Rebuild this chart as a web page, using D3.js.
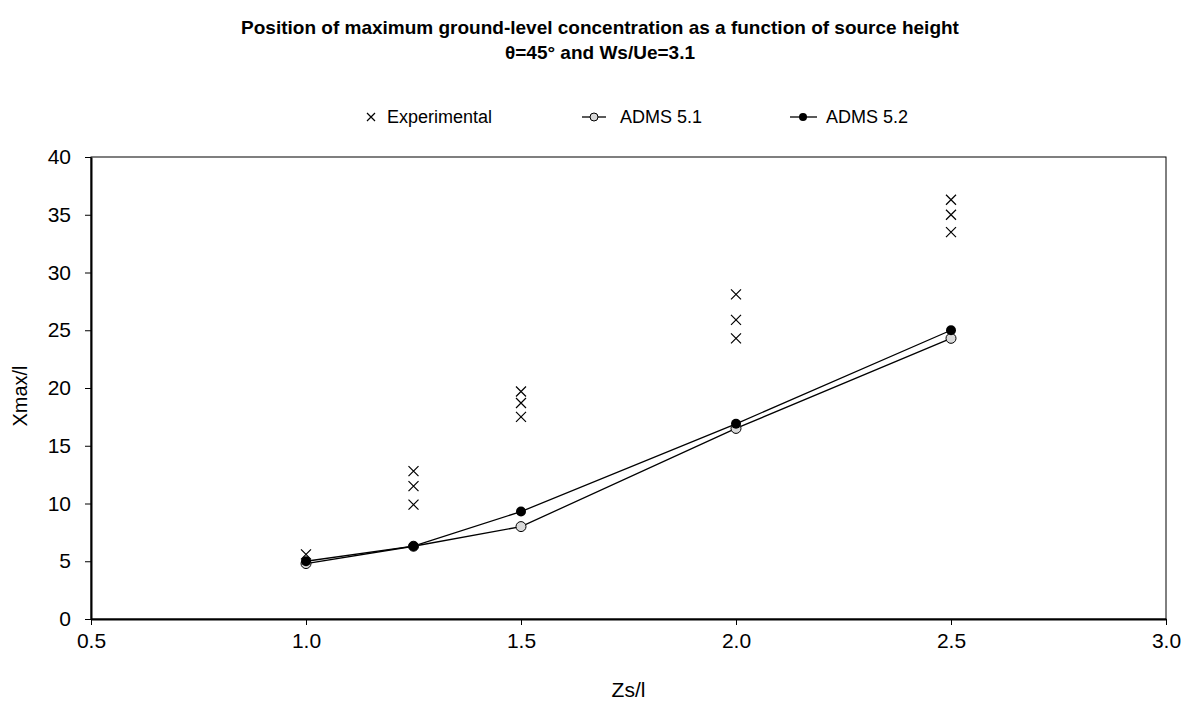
<!DOCTYPE html>
<html>
<head>
<meta charset="utf-8">
<script src="https://cdn.jsdelivr.net/npm/d3@7"></script>
<style>
  body { margin: 0; background: #fff; }
  text { font-family: "Liberation Sans", Arial, sans-serif; }
</style>
</head>
<body>
<div id="chart"></div>
<script>
// data
var zsValues = [1.0, 1.25, 1.5, 2.0, 2.5];
var expZs = [1.0, 1.25, 1.25, 1.25, 1.5, 1.5, 1.5, 2.0, 2.0, 2.0, 2.5, 2.5, 2.5];
var expXmax = [5.6, 12.8, 11.5, 9.9, 19.7, 18.7, 17.5, 28.1, 25.9, 24.3, 36.3, 35.0, 33.5];
var adms51 = [4.8, 6.3, 8.0, 16.5, 24.3];
var adms52 = [5.0, 6.3, 9.3, 16.9, 25.0];
var xTicks = [0.5, 1.0, 1.5, 2.0, 2.5, 3.0];
var yTicks = [0, 5, 10, 15, 20, 25, 30, 35, 40];

var svgWidth = 1193;
var svgHeight = 701;

var margin = { top: 157, right: 27, bottom: 82, left: 91 };
var chartWidth = svgWidth - margin.left - margin.right;
var chartHeight = svgHeight - margin.top - margin.bottom;

var svg = d3.select("#chart")
  .append("svg")
  .attr("width", svgWidth)
  .attr("height", svgHeight);

var chartGroup = svg.append("g")
  .attr("transform", `translate(${margin.left}, ${margin.top})`);

var xScale = d3.scaleLinear().domain([0.5, 3.0]).range([0, chartWidth]);
var yScale = d3.scaleLinear().domain([0, 40]).range([chartHeight, 0]);

// frame
chartGroup.append("rect")
  .attr("width", chartWidth)
  .attr("height", chartHeight)
  .attr("fill", "none")
  .attr("stroke", "#000")
  .attr("stroke-width", 1);

var bottomAxis = d3.axisBottom(xScale).tickValues(xTicks).tickFormat(d3.format(".1f")).tickSize(6).tickSizeOuter(0);
var leftAxis = d3.axisLeft(yScale).tickValues(yTicks).tickSize(6).tickSizeOuter(0);

var xg = chartGroup.append("g")
  .attr("transform", "translate(0," + chartHeight + ")")
  .call(bottomAxis);
xg.select(".domain").attr("stroke-width", 2);
xg.selectAll("text").attr("font-size", 21).attr("y", 14).attr("dy", "0.71em").attr("fill", "#000")
  .style("font-family", "Liberation Sans, Arial, sans-serif");

var yg = chartGroup.append("g").call(leftAxis);
yg.select(".domain").attr("stroke-width", 2);
yg.selectAll("text").attr("font-size", 21).attr("x", -20).attr("fill", "#000")
  .style("font-family", "Liberation Sans, Arial, sans-serif");

// axis titles
chartGroup.append("text")
  .attr("transform", "rotate(-90)")
  .attr("x", -(396 - margin.top))
  .attr("y", -64)
  .attr("text-anchor", "middle")
  .attr("font-size", 20)
  .text("Xmax/l");

chartGroup.append("text")
  .attr("x", chartWidth / 2)
  .attr("y", chartHeight + 78)
  .attr("text-anchor", "middle")
  .attr("font-size", 21)
  .text("Zs/l");

// title
svg.append("text")
  .attr("x", 600)
  .attr("y", 34)
  .attr("text-anchor", "middle")
  .attr("font-size", 19)
  .attr("font-weight", "bold")
  .text("Position of maximum ground-level concentration as a function of source height");
svg.append("text")
  .attr("x", 600)
  .attr("y", 59)
  .attr("text-anchor", "middle")
  .attr("font-size", 19)
  .attr("font-weight", "bold")
  .text("θ=45° and Ws/Ue=3.1");

// lines
var line = d3.line()
  .x((d, i) => xScale(zsValues[i]))
  .y(d => yScale(d));

chartGroup.append("path")
  .datum(adms51)
  .attr("d", line)
  .attr("fill", "none")
  .attr("stroke", "#000")
  .attr("stroke-width", 1.3);

chartGroup.append("path")
  .datum(adms52)
  .attr("d", line)
  .attr("fill", "none")
  .attr("stroke", "#000")
  .attr("stroke-width", 1.3);

chartGroup.selectAll(".p51")
  .data(adms51)
  .enter()
  .append("circle")
  .attr("cx", (d, i) => xScale(zsValues[i]))
  .attr("cy", d => yScale(d))
  .attr("r", 5)
  .attr("fill", "#d9d9d9")
  .attr("stroke", "#000")
  .attr("stroke-width", 1);

chartGroup.selectAll(".p52")
  .data(adms52)
  .enter()
  .append("circle")
  .attr("cx", (d, i) => xScale(zsValues[i]))
  .attr("cy", d => yScale(d))
  .attr("r", 5)
  .attr("fill", "#000");

function cross(g, cx, cy, s) {
  g.append("path")
    .attr("d", `M${cx - s},${cy - s}L${cx + s},${cy + s}M${cx - s},${cy + s}L${cx + s},${cy - s}`)
    .attr("stroke", "#000")
    .attr("stroke-width", 1.2)
    .attr("fill", "none");
}

expXmax.forEach(function(v, i) {
  cross(chartGroup, xScale(expZs[i]), yScale(v), 5);
});

// legend
var legend = svg.append("g").attr("transform", "translate(0,117)");
cross(legend, 371, 0, 4);
legend.append("text").attr("x", 387).attr("y", 6).attr("font-size", 18).text("Experimental");

legend.append("line").attr("x1", 582).attr("x2", 606).attr("y1", 0).attr("y2", 0).attr("stroke", "#000").attr("stroke-width", 1.3);
legend.append("circle").attr("cx", 594).attr("cy", 0).attr("r", 4).attr("fill", "#d9d9d9").attr("stroke", "#000");
legend.append("text").attr("x", 620).attr("y", 6).attr("font-size", 18).text("ADMS 5.1");

legend.append("line").attr("x1", 790).attr("x2", 817).attr("y1", 0).attr("y2", 0).attr("stroke", "#000").attr("stroke-width", 1.3);
legend.append("circle").attr("cx", 803).attr("cy", 0).attr("r", 4).attr("fill", "#000");
legend.append("text").attr("x", 826).attr("y", 6).attr("font-size", 18).text("ADMS 5.2");
</script>
</body>
</html>
